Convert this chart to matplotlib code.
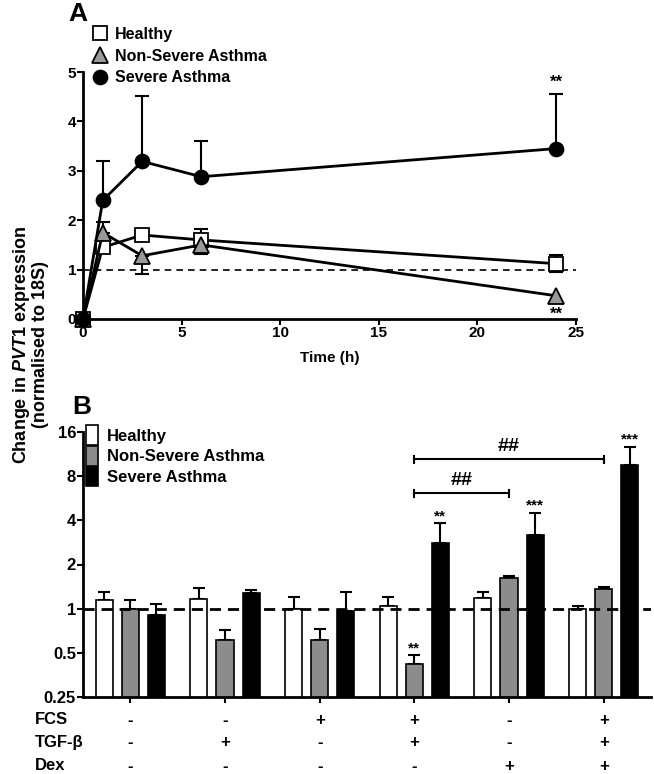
import numpy as np
import matplotlib
matplotlib.use('Agg')
import matplotlib.pyplot as plt
from matplotlib.lines import Line2D
from matplotlib.patches import Patch
from matplotlib.ticker import FixedLocator, FixedFormatter, NullLocator

plt.rcParams['font.family'] = ['Liberation Sans', 'DejaVu Sans']
plt.rcParams['font.weight'] = 'bold'
plt.rcParams['mathtext.fontset'] = 'custom'
plt.rcParams['mathtext.rm'] = 'Liberation Sans:bold'
plt.rcParams['mathtext.it'] = 'Liberation Sans:italic:bold'
plt.rcParams['mathtext.bf'] = 'Liberation Sans:bold'

# ---- Panel A data: time course ----
time_h = [0, 1, 3, 6, 24]
healthy_a = [0.0, 1.45, 1.70, 1.60, 1.12]
healthy_a_up = [0, 0, 0, 0.22, 0.18]
healthy_a_lo = [0, 0, 0, 0, 0.17]
nsa_a = [0.0, 1.75, 1.28, 1.50, 0.47]
nsa_a_up = [0, 0.22, 0, 0, 0]
nsa_a_lo = [0, 0, 0.36, 0.18, 0]
sa_a = [0.0, 2.40, 3.19, 2.88, 3.45]
sa_a_up = [0, 0.80, 1.33, 0.72, 1.11]
sa_a_lo = [0, 0, 0, 0, 0]

# ---- Panel B data: treatments ----
fcs = ['-', '-', '+', '+', '-', '+']
tgfb = ['-', '+', '-', '+', '-', '+']
dex = ['-', '-', '-', '-', '+', '+']
healthy_b = [1.14, 1.17, 1.00, 1.04, 1.19, 1.00]
healthy_b_err = [0.16, 0.21, 0.20, 0.17, 0.11, 0.05]
nsa_b = [1.00, 0.61, 0.61, 0.42, 1.61, 1.37]
nsa_b_err = [0.15, 0.10, 0.12, 0.06, 0.05, 0.03]
sa_b = [0.91, 1.27, 0.96, 2.80, 3.20, 9.60]
sa_b_err = [0.16, 0.08, 0.33, 1.03, 1.30, 3.10]

W, H = 654, 774
fig = plt.figure(figsize=(W / 100, H / 100), dpi=100)


def box(l, t, r, b):
    return [l / W, 1 - b / H, (r - l) / W, (b - t) / H]


# ================= Panel A =================
axA = fig.add_axes(box(83, 72, 576, 319))
t = np.array(time_h)
series = [
    (healthy_a, healthy_a_lo, healthy_a_up, 's', 'white', 9.5, 'Healthy'),
    (nsa_a, nsa_a_lo, nsa_a_up, '^', '#999999', 11, 'Non-Severe Asthma'),
    (sa_a, sa_a_lo, sa_a_up, 'o', 'black', 10, 'Severe Asthma'),
]
handlesA = []
for vals, lo, up, mk, fc, ms, lab in series:
    vals = np.array(vals)
    lo = np.array(lo)
    up = np.array(up)
    m = (lo > 0) | (up > 0)
    axA.errorbar(t[m], vals[m], yerr=[lo[m], up[m]], fmt='none', ecolor='black',
                 elinewidth=1.5, capsize=5, capthick=1.5, zorder=2, clip_on=False)
    axA.plot(t, vals, color='black', lw=2, marker=mk, ms=ms, mfc=fc, mec='black',
             mew=1.3, zorder=3, clip_on=False)
    handlesA.append(Line2D([], [], ls='none', marker=mk, ms=ms, mfc=fc, mec='black', mew=1.3))

axA.axhline(1, color='black', lw=1.2, ls=(0, (4, 3)), zorder=1)
axA.set_xlim(0, 25)
axA.set_ylim(0, 5)
axA.set_xticks([0, 5, 10, 15, 20, 25])
axA.set_yticks([0, 1, 2, 3, 4, 5])
for s in ['top', 'right']:
    axA.spines[s].set_visible(False)
for s in ['left', 'bottom']:
    axA.spines[s].set_linewidth(2)
axA.tick_params(width=1.5, length=4, labelsize=11, pad=1)
axA.set_xlabel('Time (h)', fontsize=11, fontweight='bold', labelpad=8)
axA.text(24, sa_a[4] + sa_a_up[4] + 0.08, '**', ha='center', va='bottom', fontsize=12)
axA.annotate('**', (24, nsa_a[4]), xytext=(0, -8), textcoords='offset points',
             ha='center', va='top', fontsize=12)

fig.legend(handlesA, [s[6] for s in series], loc='upper left',
           bbox_to_anchor=(94 / W, 1 - 27 / H), frameon=False, fontsize=11.5,
           handlelength=0.8, handletextpad=0.5, labelspacing=0.42,
           borderpad=0, borderaxespad=0)
fig.text(68 / W, 1 - 14 / H, 'A', fontsize=19, fontweight='bold', va='center', ha='left')

# ================= Panel B =================
axB = fig.add_axes(box(83, 432, 651, 697))
x = np.arange(len(fcs))
off = 0.275
bw = 0.18
bars = [
    (healthy_b, healthy_b_err, 'white', 'Healthy'),
    (nsa_b, nsa_b_err, '#8c8c8c', 'Non-Severe Asthma'),
    (sa_b, sa_b_err, 'black', 'Severe Asthma'),
]
for i, (vals, err, col, lab) in enumerate(bars):
    xs = x + (i - 1) * off
    axB.bar(xs, vals, width=bw, color=col, edgecolor='black', lw=1.2, zorder=2)
    axB.errorbar(xs, vals, yerr=[np.zeros(len(vals)), err], fmt='none', ecolor='black',
                 elinewidth=1.5, capsize=4, capthick=1.5, zorder=1)

axB.set_yscale('log', base=2)
axB.set_ylim(0.25, 16)
axB.set_xlim(-0.5, 5.5)
yt = [0.25, 0.5, 1, 2, 4, 8, 16]
axB.yaxis.set_major_locator(FixedLocator(yt))
axB.yaxis.set_major_formatter(FixedFormatter(['0.25', '0.5', '1', '2', '4', '8', '16']))
axB.yaxis.set_minor_locator(NullLocator())
axB.set_xticks(x)
axB.set_xticklabels([])
axB.axhline(1, color='black', lw=2, ls=(0, (4, 2.5)), zorder=3)
for s in ['top', 'right']:
    axB.spines[s].set_visible(False)
for s in ['left', 'bottom']:
    axB.spines[s].set_linewidth(2)
axB.tick_params(width=1.5, length=4, labelsize=12, pad=1)

# significance marks
axB.text(x[3] + off, sa_b[3] + sa_b_err[3], '**', ha='center', va='bottom', fontsize=11)
axB.text(x[3], nsa_b[3] + nsa_b_err[3], '**', ha='center', va='bottom', fontsize=11)
axB.text(x[4] + off, sa_b[4] + sa_b_err[4], '***', ha='center', va='bottom', fontsize=11)
axB.text(x[5] + off, sa_b[5] + sa_b_err[5], '***', ha='center', va='bottom', fontsize=11)

# brackets
for x2, yb in [(x[4], 6.1), (x[5], 10.4)]:
    axB.plot([x[3], x2], [yb, yb], color='black', lw=1.5)
    for xe in (x[3], x2):
        axB.plot([xe, xe], [yb / 1.06, yb * 1.06], color='black', lw=1.5)
    axB.text((x[3] + x2) / 2, yb * 1.07, '##', ha='center', va='bottom', fontsize=14)

axB.legend([Patch(facecolor=b[2], edgecolor='black', lw=1.2) for b in bars],
           [b[3] for b in bars], loc='upper left', bbox_to_anchor=(0.005, 1.025),
           frameon=False, fontsize=12, handlelength=0.75, handleheight=1.45,
           handletextpad=0.5, labelspacing=0.05, borderpad=0, borderaxespad=0)
fig.text(72 / W, 1 - 407 / H, 'B', fontsize=19, fontweight='bold', va='center', ha='left')

# treatment table
rows = [('FCS', fcs, 720), ('TGF-β', tgfb, 743), ('Dex', dex, 766)]
for name, signs, ypx in rows:
    fig.text(35 / W, 1 - ypx / H, name, fontsize=12, fontweight='bold', va='center', ha='left')
    for xi, sgn in zip(x, signs):
        xd = axB.transData.transform((xi, 1))[0] / W
        fig.text(xd, 1 - ypx / H, sgn, fontsize=12, fontweight='bold', va='center', ha='center')

# shared y label
fig.text(30 / W, 1 - 345 / H,
         'Change in $\\mathit{PVT1}$ expression\n(normalised to 18S)',
         rotation=90, ha='center', va='center', fontsize=13, fontweight='bold',
         multialignment='center', linespacing=1.0)

fig.savefig('out.png', dpi=100)
